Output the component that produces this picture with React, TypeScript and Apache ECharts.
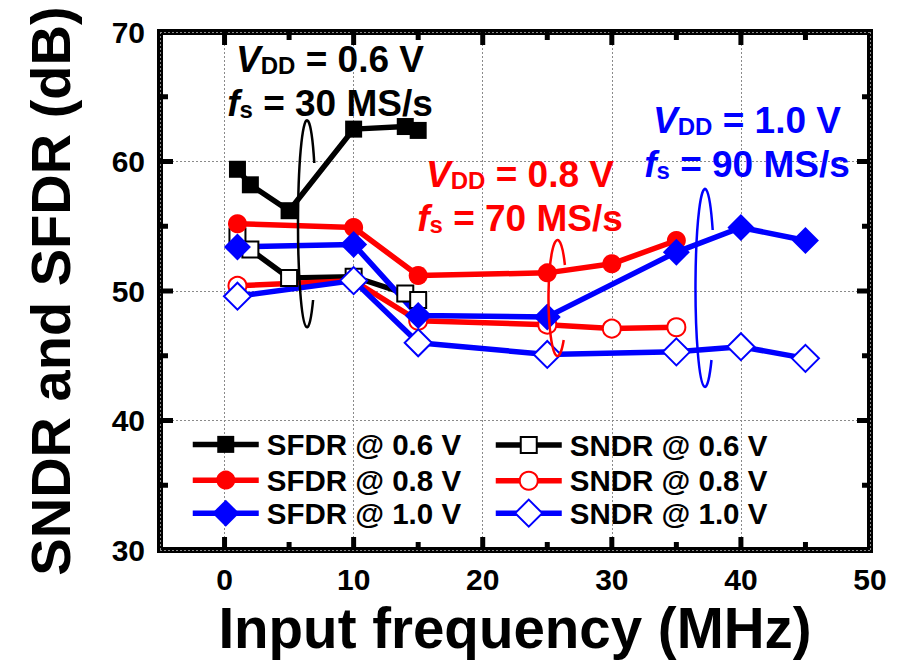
import React, { useEffect, useRef } from 'react';
import * as echarts from 'echarts';

// ---------- data ----------
const sfdr06X = [1, 2, 5, 10, 14, 15];
const sfdr06Y = [59.4, 58.2, 56.2, 62.5, 62.7, 62.4];
const sndr06X = [1, 2, 5, 10, 14, 15];
const sndr06Y = [54.2, 53.2, 51.0, 51.1, 49.8, 49.3];
const sfdr08X = [1, 10, 15, 25, 30, 35];
const sfdr08Y = [55.2, 54.9, 51.2, 51.4, 52.1, 53.9];
const sndr08X = [1, 10, 15, 25, 30, 35];
const sndr08Y = [50.4, 50.8, 47.7, 47.4, 47.1, 47.2];
const sfdr10X = [1, 10, 15, 25, 35, 40, 45];
const sfdr10Y = [53.4, 53.6, 48.1, 48.0, 53.0, 54.9, 53.9];
const sndr10X = [1, 10, 15, 25, 35, 40, 45];
const sndr10Y = [49.6, 50.8, 46.0, 45.1, 45.3, 45.7, 44.8];

const seriesNames = ['SFDR @ 0.6 V', 'SNDR @ 0.6 V', 'SFDR @ 0.8 V', 'SNDR @ 0.8 V', 'SFDR @ 1.0 V', 'SNDR @ 1.0 V'];

// tick positions (axis values)
const xMajorTicks = [0, 10, 20, 30, 40];
const xMinorTicks = [5, 15, 25, 35, 45];
const yMajorTicks = [40, 50, 60];
const yMinorTicks = [35, 45, 55, 65];
const X_MIN = -5, X_MAX = 50, Y_MIN = 30, Y_MAX = 70;

const FONT = '"Liberation Sans", Arial, Helvetica, sans-serif';

// ellipse outlines with a gap on the right side (drawn as "loops" around curves)
echarts.graphic.registerShape('loopBlack', echarts.graphic.extendPath('M 313.1 300 A 9 103.5 0 1 1 314.3 163', {}));
echarts.graphic.registerShape('loopRed', echarts.graphic.extendPath('M 563.7 340 A 9 58 0 1 1 564.9 265', {}));
echarts.graphic.registerShape('loopBlue', echarts.graphic.extendPath('M 711.5 360 A 9.5 99 0 1 1 712.7 230', {}));

const pairs = (xs: number[], ys: number[]) => xs.map((x, i) => [x, ys[i]]);

function annot(id: string, cx: number, y: number, color: string, l1: string, l2: string) {
  const base = { fontFamily: FONT, fontWeight: 'bold', fill: color };
  return {
    id,
    type: 'text',
    x: cx,
    y,
    z: 100,
    style: {
      text: `{i|V}{s|DD}{n| = ${l1}}\n{i|f}{s|s}{n| = ${l2}}`,
      align: 'center',
      verticalAlign: 'top',
      fill: color,
      font: `bold 37px ${FONT}`,
      rich: {
        i: { ...base, fontStyle: 'italic', fontSize: 37, lineHeight: 44 },
        n: { ...base, fontSize: 37, lineHeight: 44 },
        s: { ...base, fontSize: 24, lineHeight: 24, padding: [12, 0, 0, 0] },
      },
    },
  };
}

export default function App() {
  const ref = useRef<HTMLDivElement>(null);
  useEffect(() => {
    if (!ref.current) return;
    const chart = echarts.init(ref.current, undefined, { renderer: 'svg' });

    const defs = [
      { xs: sfdr06X, ys: sfdr06Y, color: '#000000', symbol: 'rect', size: 17 },
      { xs: sndr06X, ys: sndr06Y, color: '#000000', symbol: 'emptyRect', size: 16 },
      { xs: sfdr08X, ys: sfdr08Y, color: '#ff0000', symbol: 'circle', size: 19 },
      { xs: sndr08X, ys: sndr08Y, color: '#ff0000', symbol: 'emptyCircle', size: 18 },
      { xs: sfdr10X, ys: sfdr10Y, color: '#0000ff', symbol: 'diamond', size: 27 },
      { xs: sndr10X, ys: sndr10Y, color: '#0000ff', symbol: 'emptyDiamond', size: 27 },
    ];

    const series = defs.map((d, i) => ({
      name: seriesNames[i],
      type: 'line',
      data: pairs(d.xs, d.ys),
      symbol: d.symbol,
      symbolSize: d.size,
      showAllSymbol: true,
      lineStyle: { color: d.color, width: 5.5 },
      itemStyle: { color: d.color, borderWidth: d.symbol.startsWith('empty') ? 2 : 0 },
      emphasis: { disabled: true },
    }));

    // legend: one component per entry so each symbol gets its own size
    const rowY = [440, 477, 515];
    const colX = [190, 493];
    const legendOrder = [0, 2, 4, 1, 3, 5];
    const legends = legendOrder.map((si, k) => {
      const col = Math.floor(k / 3);
      const row = k % 3;
      const h = defs[si].size / 0.8;
      return {
        data: [seriesNames[si]],
        left: colX[col],
        top: rowY[row] - h / 2,
        padding: 0,
        itemWidth: 66,
        itemHeight: h,
        selectedMode: false,
        lineStyle: { width: 5.5 },
        textStyle: { fontFamily: FONT, fontWeight: 'bold', fontSize: 29.5, color: '#000', padding: [0, 0, 0, 3] },
      };
    });

    const baseGraphics: any[] = [
      annot('a1', 330, 37, '#000000', '0.6 V', '30 MS/s'),
      annot('a2', 520, 152, '#ff0000', '0.8 V', '70 MS/s'),
      annot('a3', 747, 98.6, '#0000ff', '1.0 V', '90 MS/s'),
      { id: 'l1', type: 'loopBlack', x: 0, y: 0, z: 90, style: { stroke: '#000000', lineWidth: 2.5, fill: null } },
      { id: 'l2', type: 'loopRed', x: 0, y: 0, z: 90, style: { stroke: '#ff0000', lineWidth: 2.5, fill: null } },
      { id: 'l3', type: 'loopBlue', x: 0, y: 0, z: 90, style: { stroke: '#0000ff', lineWidth: 2.5, fill: null } },
    ];

    const option = {
      animation: false,
      grid: { left: 160, right: 28, top: 32, bottom: 110, show: true, borderColor: '#000000', borderWidth: 6, backgroundColor: 'transparent' },
      legend: legends,
      xAxis: {
        type: 'value', min: X_MIN, max: X_MAX, splitNumber: 5,
        axisLine: { show: false, onZero: false },
        axisTick: { show: false },
        axisLabel: {
          fontFamily: FONT, fontWeight: 'bold', fontSize: 30, color: '#000', margin: 14,
          formatter: (v: number) => (v % 10 === 0 ? String(v) : ''),
        },
        splitLine: { show: true, lineStyle: { color: '#8a8a8a', width: 1, type: [2, 2] } },
        name: 'Input frequency (MHz)', nameLocation: 'middle', nameGap: 50,
        nameTextStyle: { fontFamily: FONT, fontWeight: 'bold', fontSize: 56.5, color: '#000' },
      },
      yAxis: {
        type: 'value', min: Y_MIN, max: Y_MAX, interval: 10,
        axisLine: { show: false, onZero: false },
        axisTick: { show: false },
        axisLabel: { fontFamily: FONT, fontWeight: 'bold', fontSize: 30, color: '#000', margin: 15 },
        splitLine: { show: true, lineStyle: { color: '#8a8a8a', width: 1, type: [2, 2] } },
        name: 'SNDR and SFDR (dB)', nameLocation: 'middle', nameGap: 82,
        nameTextStyle: { fontFamily: FONT, fontWeight: 'bold', fontSize: 56, color: '#000' },
      },
      series,
      graphic: baseGraphics,
    };

    chart.setOption(option as any);

    // inward ticks on all four sides, positioned through the axes' own scales
    const px = (v: number) => chart.convertToPixel({ xAxisIndex: 0 }, v) as number;
    const py = (v: number) => chart.convertToPixel({ yAxisIndex: 0 }, v) as number;
    const xl = px(X_MIN), xr = px(X_MAX), yb = py(Y_MIN), yt = py(Y_MAX);
    const tickStyle = { stroke: '#000000', lineWidth: 5 };
    const ticks: any[] = [];
    const addX = (vals: number[], len: number, tag: string) => vals.forEach((v, i) => {
      const x = px(v);
      ticks.push({ id: `tb${tag}${i}`, type: 'line', z: 50, shape: { x1: x, y1: yb, x2: x, y2: yb - len }, style: tickStyle });
      ticks.push({ id: `tt${tag}${i}`, type: 'line', z: 50, shape: { x1: x, y1: yt, x2: x, y2: yt + len }, style: tickStyle });
    });
    const addY = (vals: number[], len: number, tag: string) => vals.forEach((v, i) => {
      const y = py(v);
      ticks.push({ id: `tl${tag}${i}`, type: 'line', z: 50, shape: { x1: xl, y1: y, x2: xl + len, y2: y }, style: tickStyle });
      ticks.push({ id: `tr${tag}${i}`, type: 'line', z: 50, shape: { x1: xr, y1: y, x2: xr - len, y2: y }, style: tickStyle });
    });
    addX(xMajorTicks, 13, 'M');
    addX(xMinorTicks, 8, 'm');
    addY(yMajorTicks, 13, 'M');
    addY(yMinorTicks, 8, 'm');
    chart.setOption({ graphic: [...baseGraphics, ...ticks] } as any);

    return () => chart.dispose();
  }, []);

  return <div ref={ref} style={{ position: 'fixed', left: 0, top: 0, width: 898, height: 662, background: '#fff' }} />;
}
